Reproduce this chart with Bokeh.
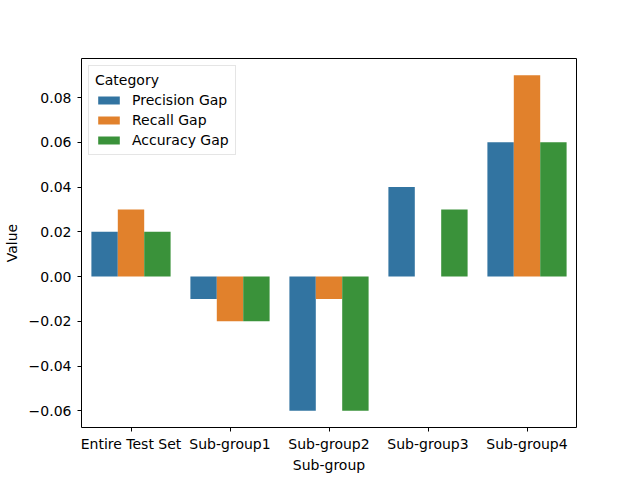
from bokeh.plotting import figure
from bokeh.models import ColumnDataSource, FixedTicker, Legend, LegendItem, FactorRange
from bokeh.transform import dodge
from bokeh.embed import file_html
from bokeh.resources import INLINE

subgroups = ["Entire Test Set", "Sub-group1", "Sub-group2", "Sub-group3", "Sub-group4"]
precision_gap = [0.02, -0.01, -0.06, 0.04, 0.06]
recall_gap = [0.03, -0.02, -0.01, 0.0, 0.09]
accuracy_gap = [0.02, -0.02, -0.06, 0.03, 0.06]
series_names = ["Precision Gap", "Recall Gap", "Accuracy Gap"]
y_ticks = [-0.06, -0.04, -0.02, 0.0, 0.02, 0.04, 0.06, 0.08]
y_tick_labels = ["\u22120.06", "\u22120.04", "\u22120.02", "0.00", "0.02", "0.04", "0.06", "0.08"]

colors = ["#3274a1", "#e1812c", "#3a923a"]
FONT = "DejaVu Sans"
FS = "14px"

src = ColumnDataSource(dict(sub=subgroups, p=precision_gap, r=recall_gap, a=accuracy_gap))

p = figure(width=640, height=480, x_range=FactorRange(*subgroups, range_padding=0),
           y_range=(-0.0675, 0.0975), output_backend="svg", toolbar_location=None,
           min_border_left=80, min_border_right=64, min_border_top=58, min_border_bottom=53)

w = 0.8 / 3
renderers = []
for col, off, c in zip(["p", "r", "a"], [-w, 0, w], colors):
    r = p.vbar(x=dodge("sub", off, range=p.x_range), top=col, bottom=0, width=w, source=src,
               fill_color=c, line_color=None)
    renderers.append(r)

p.xgrid.visible = False
p.ygrid.visible = False
p.outline_line_color = "black"
p.outline_line_width = 1

p.yaxis.ticker = FixedTicker(ticks=y_ticks)
p.yaxis.major_label_overrides = {t: l for t, l in zip(y_ticks, y_tick_labels)}
p.yaxis.minor_tick_line_color = None

for ax in [p.xaxis, p.yaxis]:
    ax.major_tick_in = 0
    ax.major_tick_out = 4
    ax.major_tick_line_color = "black"
    ax.axis_line_color = None
    ax.major_label_text_font = FONT
    ax.major_label_text_font_size = FS
    ax.major_label_text_color = "black"
    ax.axis_label_text_font = FONT
    ax.axis_label_text_font_size = FS
    ax.axis_label_text_font_style = "normal"
    ax.axis_label_text_color = "black"

p.xaxis.axis_label = "Sub-group"
p.yaxis.axis_label = "Value"
p.xaxis.major_label_standoff = 4
p.xaxis.axis_label_standoff = 2
p.yaxis.major_label_standoff = 6
p.yaxis.axis_label_standoff = 6

legend = Legend(items=[LegendItem(label=n, renderers=[r]) for n, r in zip(series_names, renderers)],
                location="top_left", title="Category")
legend.title_text_font = FONT
legend.title_text_font_size = FS
legend.title_text_font_style = "normal"
legend.title_text_color = "black"
legend.label_text_font = FONT
legend.label_text_font_size = FS
legend.label_text_color = "black"
legend.glyph_width = 27
legend.glyph_height = 10
legend.label_standoff = 10
legend.spacing = 4
legend.padding = 6
legend.margin = 7
legend.border_line_color = "#cccccc"
legend.background_fill_alpha = 0.8
legend.title_standoff = 4
p.add_layout(legend)

open("out.html", "w").write(file_html(p, INLINE))
